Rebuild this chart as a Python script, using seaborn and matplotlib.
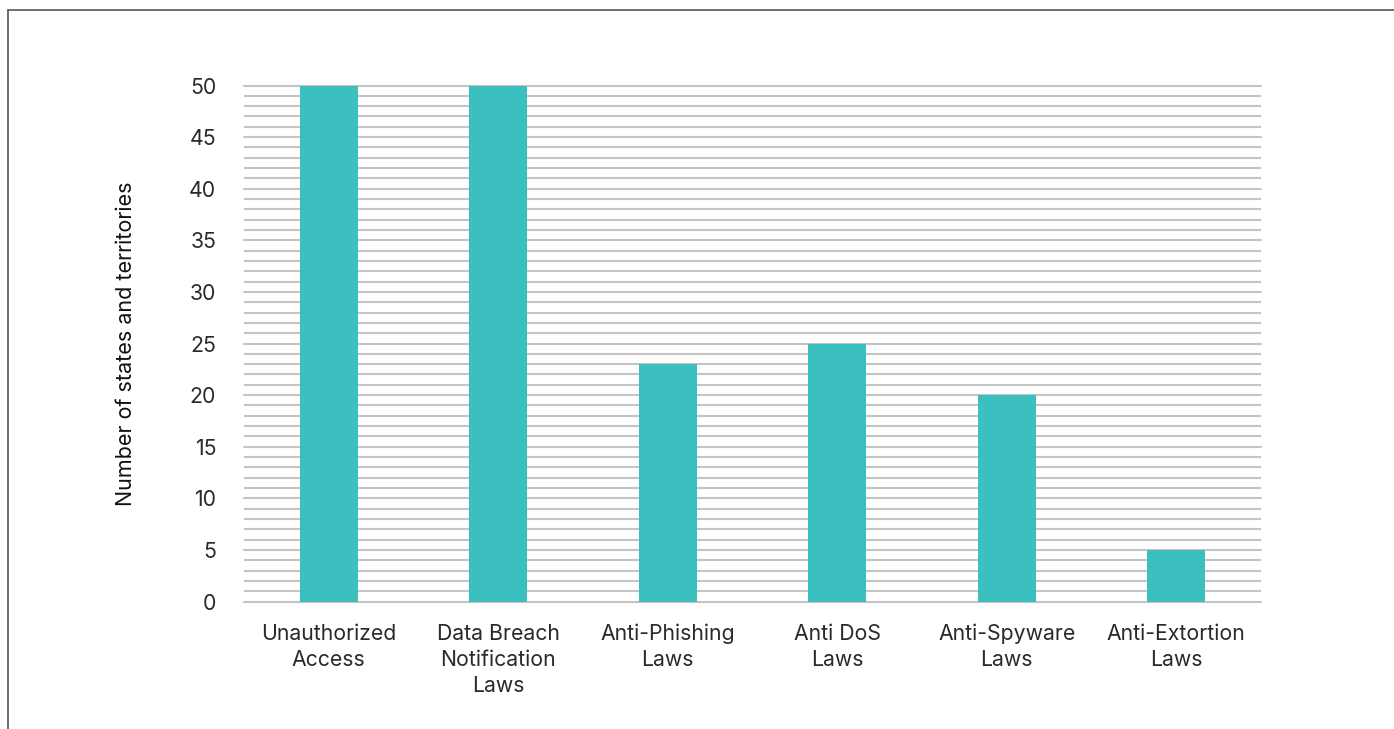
import matplotlib
matplotlib.use("Agg")
import matplotlib.pyplot as plt
import seaborn as sns
import pandas as pd
from matplotlib.lines import Line2D

categories = ["Unauthorized\nAccess", "Data Breach\nNotification\nLaws", "Anti-Phishing\nLaws",
              "Anti DoS\nLaws", "Anti-Spyware\nLaws", "Anti-Extortion\nLaws"]
values = [50, 50, 23, 25, 20, 5]
y_ticks = list(range(0, 51, 5))
y_label = "Number of states and territories"

sns.set_theme(style="white")
plt.rcParams['font.family'] = ['Inter', 'DejaVu Sans']

df = pd.DataFrame({"cat": categories, "val": values})

fig = plt.figure(figsize=(13.94, 7.29), dpi=100)
ax = fig.add_axes([244/1394, 1-601.5/729, (1261-244)/1394, (601.5-85.5)/729])

ax.set_axisbelow(True)
sns.barplot(data=df, x="cat", y="val", color="#3BBFBF", saturation=1, width=0.34,
            linewidth=0, ax=ax, zorder=3)

ax.set_ylim(0, 50)
ax.set_yticks(y_ticks)
ax.set_yticks(range(0, 51), minor=True)
ax.yaxis.grid(True, which="both", color="#C4C4C4", linewidth=1.5, zorder=0)
for gl in ax.get_ygridlines():
    gl.set_clip_on(False)
ax.tick_params(axis="y", which="both", length=0, pad=20, labelsize=15.3, labelcolor="#2a2a2a")
ax.tick_params(axis="x", length=0, pad=16, labelsize=15.3, labelcolor="#2a2a2a")
for lbl in ax.get_xticklabels():
    lbl.set_linespacing(1.38)
for s in ax.spines.values():
    s.set_visible(False)
ax.set_xlabel("")
ax.set_ylabel(y_label, fontsize=15.5, color="#111111", labelpad=38)

for line in ax.yaxis.get_minorticklines():
    line.set_visible(False)

# frame lines
fig.add_artist(Line2D([8/1394, 1.0], [1-10/729, 1-10/729], transform=fig.transFigure, color="#555555", lw=1.2))
fig.add_artist(Line2D([8/1394, 8/1394], [1-10/729, 0], transform=fig.transFigure, color="#555555", lw=1.2))

fig.savefig("out.png", dpi=100)
